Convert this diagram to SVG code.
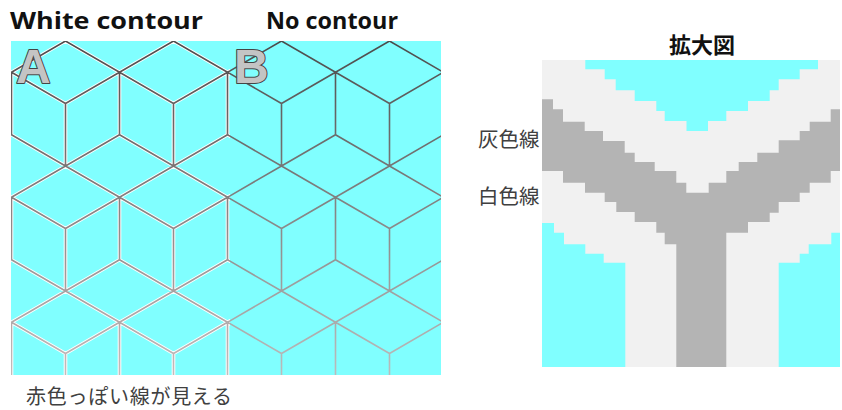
<svg xmlns="http://www.w3.org/2000/svg" width="842" height="410" viewBox="0 0 842 410">
  <style>
    .title { font-family: "Open Sans", "Liberation Sans", sans-serif; font-weight: bold; font-size: 24px; fill: #111; }
    .jp { font-family: "Noto Sans CJK JP", sans-serif; font-size: 20.5px; fill: #404040; }
    .note { font-family: "Noto Sans CJK JP", sans-serif; font-size: 20px; fill: #404040; }
    .jpb { font-family: "Noto Sans CJK JP", sans-serif; font-size: 22px; font-weight: bold; fill: #111; }
    .badge { font-family: "Liberation Sans", "DejaVu Sans", sans-serif; font-weight: bold; font-size: 48px; fill: #c4c4c4; stroke: #444; stroke-width: 2; paint-order: stroke; stroke-linejoin: round; }
    .halo { fill: none; stroke: #ffffff; stroke-width: 3.6; stroke-linejoin: round; }
    .lineA { fill: none; stroke: url(#shadeA); stroke-width: 1.6; stroke-linejoin: round; }
    .lineB { fill: none; stroke: url(#shadeB); stroke-width: 1.6; stroke-linejoin: round; }
    .cyan { fill: #80ffff; }
    .pale { fill: #f1f1f1; }
    .core { fill: #b4b4b4; }
  </style>
  <defs>
    <linearGradient id="shadeA" gradientUnits="userSpaceOnUse" x1="0" y1="41" x2="0" y2="375">
      <stop offset="0" stop-color="#4e4b4b"/>
      <stop offset="1" stop-color="#c4bcbc"/>
    </linearGradient>
    <linearGradient id="shadeB" gradientUnits="userSpaceOnUse" x1="0" y1="41" x2="0" y2="375">
      <stop offset="0" stop-color="#4c4c4c"/>
      <stop offset="1" stop-color="#bcbcbc"/>
    </linearGradient>
    <clipPath id="clipA"><rect x="11" y="41" width="219" height="334"/></clipPath>
    <clipPath id="clipB"><rect x="230" y="41" width="211" height="334"/></clipPath>
    <!-- isometric cube lattice: per cube, top rhombus, left side + lower edges, centre spine -->
    <path id="cubes" d="
      M11.5,72.25l54-31.25 54 31.25-54 31.25zv62.5l54 31.25 54-31.25m-54-31.25v62.5
      M119.5,72.25l54-31.25 54 31.25-54 31.25zv62.5l54 31.25 54-31.25m-54-31.25v62.5
      M227.5,72.25l54-31.25 54 31.25-54 31.25zv62.5l54 31.25 54-31.25m-54-31.25v62.5
      M335.5,72.25l54-31.25 54 31.25-54 31.25zv62.5l54 31.25 54-31.25m-54-31.25v62.5
      M11.5,197.25l54-31.25 54 31.25-54 31.25zv62.5l54 31.25 54-31.25m-54-31.25v62.5
      M119.5,197.25l54-31.25 54 31.25-54 31.25zv62.5l54 31.25 54-31.25m-54-31.25v62.5
      M227.5,197.25l54-31.25 54 31.25-54 31.25zv62.5l54 31.25 54-31.25m-54-31.25v62.5
      M335.5,197.25l54-31.25 54 31.25-54 31.25zv62.5l54 31.25 54-31.25m-54-31.25v62.5
      M11.5,322.25l54-31.25 54 31.25-54 31.25zv62.5l54 31.25 54-31.25m-54-31.25v62.5
      M119.5,322.25l54-31.25 54 31.25-54 31.25zv62.5l54 31.25 54-31.25m-54-31.25v62.5
      M227.5,322.25l54-31.25 54 31.25-54 31.25zv62.5l54 31.25 54-31.25m-54-31.25v62.5
      M335.5,322.25l54-31.25 54 31.25-54 31.25zv62.5l54 31.25 54-31.25m-54-31.25v62.5"/>
  </defs>

  <rect width="842" height="410" fill="#ffffff"/>

  <!-- headings -->
  <text class="title" x="10" y="29" textLength="193" lengthAdjust="spacingAndGlyphs">White contour</text>
  <text class="title" x="266" y="29" textLength="132" lengthAdjust="spacingAndGlyphs">No contour</text>

  <!-- tiled cube panel -->
  <g id="tile-panel">
    <rect x="11" y="41" width="430" height="334" class="cyan"/>
    <g id="half-a" clip-path="url(#clipA)">
      <use href="#cubes" class="halo"/>
      <use href="#cubes" class="lineA"/>
    </g>
    <g id="half-b" clip-path="url(#clipB)">
      <use href="#cubes" class="lineB"/>
    </g>
    <text class="badge" x="16" y="83">A</text>
    <text class="badge" x="234" y="83">B</text>
  </g>

  <text class="note" x="26" y="404" textLength="206" lengthAdjust="spacing">赤色っぽい線が見える</text>

  <!-- magnified junction -->
  <g id="zoom-view">
    <text class="jpb" x="702" y="53" text-anchor="middle">拡大図</text>
    <rect x="542" y="60" width="298" height="307" class="pale"/>
    <polygon class="cyan" points="585.3,60 585.3,69.3 604.7,69.3 604.7,79.3 615.7,79.3 615.7,90.3 634.7,90.3 634.7,101 656.3,101 656.3,111 664.7,111 664.7,121 686.5,121 686.5,131 708,131 708,121 726.3,121 726.3,111 748,111 748,101 769.7,101 769.7,90.3 778.7,90.3 778.7,79.3 799.7,79.3 799.7,69.3 818,69.3 818,60"/>
    <polygon class="core" points="542,99.3 553,99.3 553,109.3 563,109.3 563,121.7 584.7,121.7 584.7,131 603,131 603,141 624.7,141 624.7,152.7 634.7,152.7 634.7,162 654.7,162 654.7,171 676.3,171 676.3,182.7 686.3,182.7 686.3,192.7 708.7,192.7 708.7,182.7 726.3,182.7 726.3,171 738.7,171 738.7,162 757.3,162 757.3,152.7 778.7,152.7 778.7,140.3 799.7,140.3 799.7,131 809.7,131 809.7,121.7 830.7,121.7 830.7,109.3 840,109.3 840,171 830.7,171 830.7,182.7 809.7,182.7 809.7,192.7 799.7,192.7 799.7,202 778.7,202 778.7,212.7 769.7,212.7 769.7,222 748,222 748,232.7 726.3,232.7 726.3,367 676.3,367 676.3,244.3 664.7,244.3 664.7,232.7 656.3,232.7 656.3,222 634.7,222 634.7,212 616.3,212 616.3,202 604.7,202 604.7,192.7 585,192.7 585,182.7 563,182.7 563,171 542,171"/>
    <polygon class="cyan" points="542,223 554,223 554,232.7 564,232.7 564,244.3 585.3,244.3 585.3,253.7 603.7,253.7 603.7,262.7 625.3,262.7 625.3,367 542,367"/>
    <polygon class="cyan" points="840,232.7 831.3,232.7 831.3,244.3 808.7,244.3 808.7,253.7 799.7,253.7 799.7,262.7 778.7,262.7 778.7,367 840,367"/>
    <text class="jp" x="478" y="147">灰色線</text>
    <text class="jp" x="478" y="204">白色線</text>
  </g>
</svg>
